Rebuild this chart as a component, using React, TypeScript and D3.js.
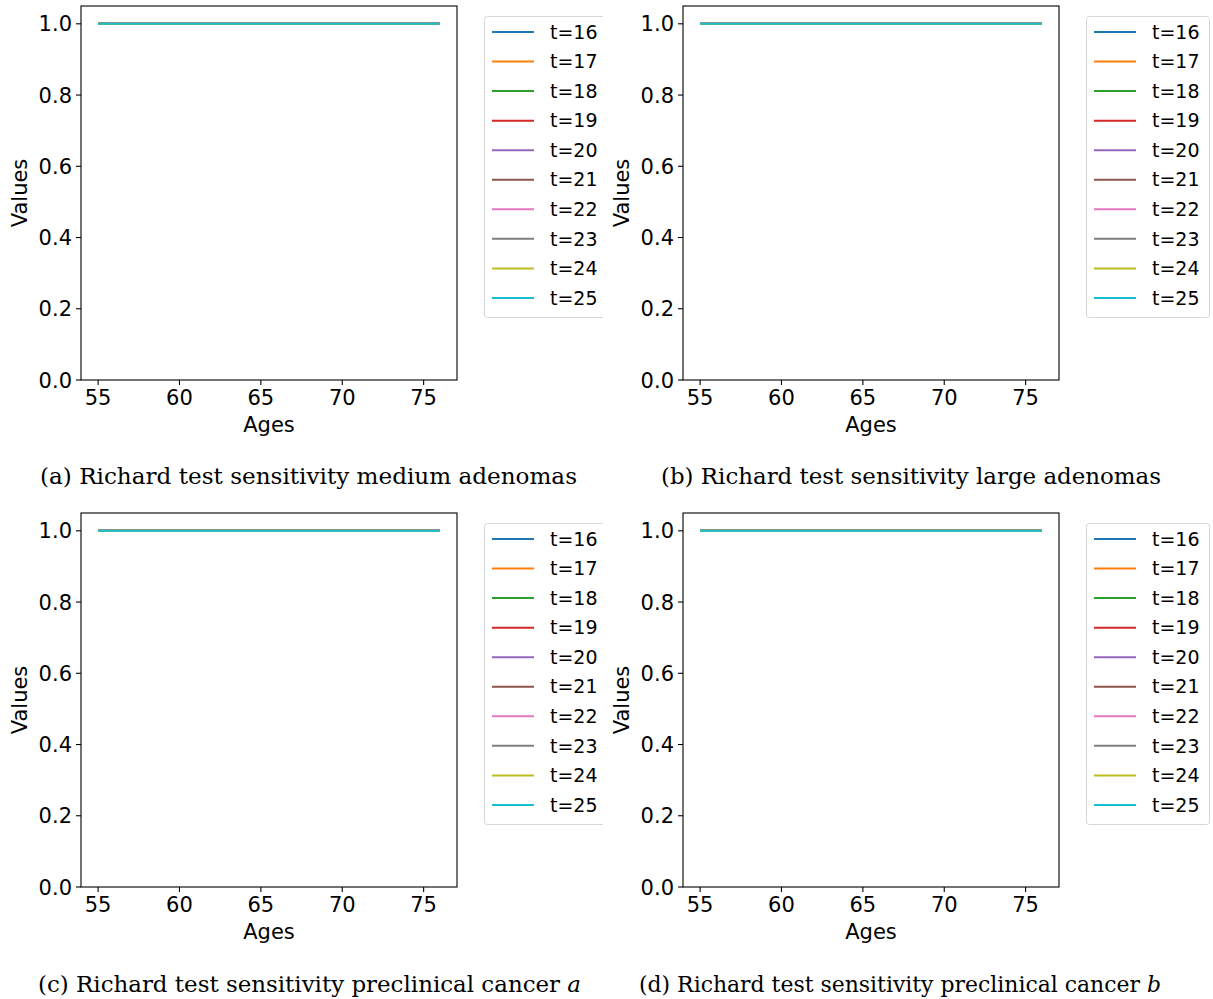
import React from "react";
import * as d3 from "d3";

const ages = [55, 56, 57, 58, 59, 60, 61, 62, 63, 64, 65, 66, 67, 68, 69, 70, 71, 72, 73, 74, 75, 76];
const sensitivity = [1, 1, 1, 1, 1, 1, 1, 1, 1, 1, 1, 1, 1, 1, 1, 1, 1, 1, 1, 1, 1, 1];
const seriesNames = ["t=16", "t=17", "t=18", "t=19", "t=20", "t=21", "t=22", "t=23", "t=24", "t=25"];
const colors = ["#1f77b4", "#ff7f0e", "#2ca02c", "#d62728", "#9467bd", "#8c564b", "#e377c2", "#7f7f7f", "#bcbd22", "#17becf"];
const xTicks = [55, 60, 65, 70, 75];
const yTicks = [0, 0.2, 0.4, 0.6, 0.8, 1.0];
const captions = [
  { label: "(a) Richard test sensitivity medium adenomas", italic: "" },
  { label: "(b) Richard test sensitivity large adenomas", italic: "" },
  { label: "(c) Richard test sensitivity preclinical cancer ", italic: "a" },
  { label: "(d) Richard test sensitivity preclinical cancer ", italic: "b" },
];

const panelOrigins = [
  { x: 0, y: 0, w: 603 },
  { x: 602, y: 0, w: 611 },
  { x: 0, y: 507, w: 603 },
  { x: 602, y: 507, w: 611 },
];
const captionPos = [
  { x: 40, y: 484, w: 537 },
  { x: 661, y: 484, w: 500 },
  { x: 38, y: 992, w: 543 },
  { x: 639, y: 992, w: 522 },
];

const AX_L = 81, AX_R = 457, AX_T = 6, AX_B = 380;
const tickFont = "DejaVu Sans, sans-serif";

function Panel({ idx }: { idx: number }) {
  const o = panelOrigins[idx];
  const x = d3.scaleLinear().domain([53.95, 77.05]).range([AX_L, AX_R]);
  const y = d3.scaleLinear().domain([0, 1.05]).range([AX_B, AX_T]);
  const line = d3.line<number>().x((_, i) => x(ages[i])).y((v) => y(v));
  const clipId = `clip${idx}`;
  return (
    <g transform={`translate(${o.x},${o.y})`}>
      <defs>
        <clipPath id={clipId}>
          <rect x={0} y={0} width={o.w} height={440} />
        </clipPath>
      </defs>
      <g clipPath={`url(#${clipId})`}>
        {seriesNames.map((s, i) => (
          <path key={s} d={line(sensitivity) || ""} fill="none" stroke={colors[i]} strokeWidth={2} />
        ))}
        <rect x={AX_L} y={AX_T} width={AX_R - AX_L} height={AX_B - AX_T} fill="none" stroke="#000" strokeWidth={1.1} />
        {xTicks.map((t) => (
          <g key={t}>
            <line x1={x(t)} x2={x(t)} y1={AX_B} y2={AX_B + 5} stroke="#000" strokeWidth={1.1} />
            <text x={x(t)} y={AX_B + 25} textAnchor="middle" fontFamily={tickFont} fontSize={21} fill="#000">{t}</text>
          </g>
        ))}
        {yTicks.map((t) => (
          <g key={t}>
            <line x1={AX_L - 5} x2={AX_L} y1={y(t)} y2={y(t)} stroke="#000" strokeWidth={1.1} />
            <text x={AX_L - 9} y={y(t) + 7.5} textAnchor="end" fontFamily={tickFont} fontSize={21} fill="#000">{t.toFixed(1)}</text>
          </g>
        ))}
        <text x={(AX_L + AX_R) / 2} y={432} textAnchor="middle" fontFamily={tickFont} fontSize={21} fill="#000">Ages</text>
        <text transform={`translate(27,${(AX_T + AX_B) / 2}) rotate(-90)`} textAnchor="middle" fontFamily={tickFont} fontSize={21} fill="#000">Values</text>
        <rect x={484.5} y={16.5} width={123} height={301} rx={3} fill="#fff" fillOpacity={0.8} stroke="#d6d6d6" strokeWidth={1} />
        {seriesNames.map((s, i) => {
          const ry = 32 + i * 29.55;
          return (
            <g key={s}>
              <line x1={492} x2={534} y1={ry} y2={ry} stroke={colors[i]} strokeWidth={2} />
              <text x={550} y={ry + 6.7} fontFamily={tickFont} fontSize={19} fill="#000">{s}</text>
            </g>
          );
        })}
      </g>
    </g>
  );
}

export default function App() {
  return (
    <svg width={1213} height={999} style={{ position: "absolute", left: 0, top: 0, background: "#fff" }}>
      <rect x={0} y={0} width={1213} height={999} fill="#fff" />
      {[0, 1, 2, 3].map((i) => (
        <Panel key={i} idx={i} />
      ))}
      {captions.map((c, i) => (
        <text key={i} x={captionPos[i].x} y={captionPos[i].y} textLength={captionPos[i].w} lengthAdjust="spacingAndGlyphs" fontFamily="'DejaVu Serif', serif" fontSize={22.5} fill="#000">
          {c.label}
          {c.italic && <tspan fontStyle="italic">{c.italic}</tspan>}
        </text>
      ))}
    </svg>
  );
}
